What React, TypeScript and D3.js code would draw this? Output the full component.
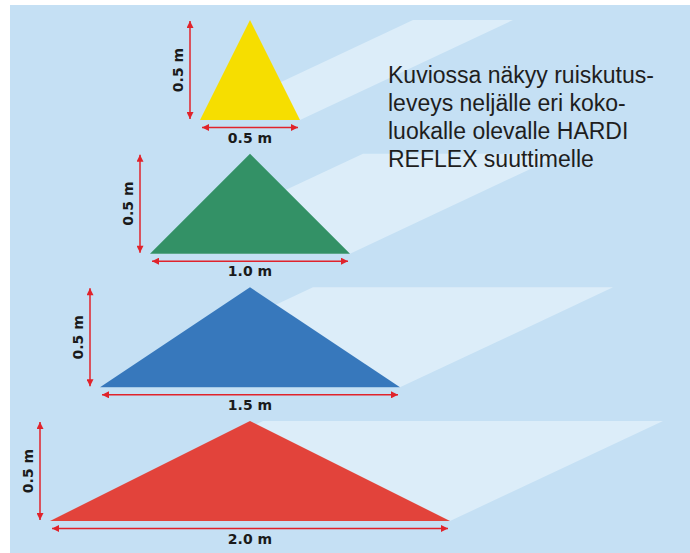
import React from "react";
import * as d3 from "d3";

// Spray widths (m) and heights (m) for the four nozzle size classes
const categories = ["yellow", "green", "blue", "red"];
const sprayWidths = [0.5, 1.0, 1.5, 2.0];
const sprayHeights = [0.5, 0.5, 0.5, 0.5];
const widthLabels = ["0.5 m", "1.0 m", "1.5 m", "2.0 m"];
const heightLabels = ["0.5 m", "0.5 m", "0.5 m", "0.5 m"];
const fillColors = ["#f6de00", "#339166", "#3778bc", "#e2433b"];
const descriptionLines = [
  "Kuviossa näkyy ruiskutus-",
  "leveys neljälle eri koko-",
  "luokalle olevalle HARDI",
  "REFLEX suuttimelle",
];

const W = 690;
const H = 553;
const BG = "#c5e0f4";
const LIGHT = "#dcedf9";
const ARROW = "#e0232b";

export default function App() {
  const x = d3.scaleLinear().domain([-1, 1]).range([50, 450]);
  const hScale = d3.scaleLinear().domain([0, 0.5]).range([0, 100]);
  const row = d3
    .scalePoint<number>()
    .domain(categories.map((_, i) => i))
    .range([120, 521]);
  const depth = { dx: 213, dy: -100 };
  const line = d3.line<[number, number]>();

  return (
    <svg
      width={W}
      height={H}
      style={{ position: "absolute", left: 0, top: 0, display: "block" }}
    >
      <defs>
        <marker
          id="ah"
          viewBox="0 0 10 10"
          refX="10"
          refY="5"
          markerUnits="userSpaceOnUse"
          markerWidth="9"
          markerHeight="7"
          orient="auto-start-reverse"
        >
          <path d="M0,0 L10,5 L0,10 Z" fill={ARROW} />
        </marker>
      </defs>
      <rect x={0} y={0} width={W} height={H} fill="#ffffff" />
      <rect x={10} y={5} width={W - 10} height={H - 5} fill={BG} />

      {/* perspective spray bands, drawn first so triangles sit on top */}
      {categories.map((c, i) => {
        const by = row(i)!;
        const xl = x(-sprayWidths[i] / 2);
        const xr = x(sprayWidths[i] / 2);
        const pts: [number, number][] = [
          [xl, by],
          [xr, by],
          [xr + depth.dx, by + depth.dy],
          [xl + depth.dx, by + depth.dy],
          [xl, by],
        ];
        return <path key={"band" + c} d={line(pts)!} fill={LIGHT} />;
      })}

      {categories.map((c, i) => {
        const by = row(i)!;
        const xl = x(-sprayWidths[i] / 2);
        const xr = x(sprayWidths[i] / 2);
        const top = by - hScale(sprayHeights[i]);
        const tri: [number, number][] = [
          [xl, by],
          [x(0), top],
          [xr, by],
          [xl, by],
        ];
        const ax = xl - 10;
        const hy = by + 7.5;
        return (
          <g key={c}>
            <path d={line(tri)!} fill={fillColors[i]} />
            {/* height arrow */}
            <line
              x1={ax}
              y1={top + 1}
              x2={ax}
              y2={by - 1}
              stroke={ARROW}
              strokeWidth={1.5}
              markerStart="url(#ah)"
              markerEnd="url(#ah)"
            />
            <text
              transform={`translate(${ax - 7},${(top + by) / 2}) rotate(-90)`}
              textAnchor="middle"
              fontFamily="DejaVu Sans"
              fontWeight="bold"
              fontSize={14}
              fill="#1a1a1a"
            >
              {heightLabels[i]}
            </text>
            {/* width arrow */}
            <line
              x1={xl + 2}
              y1={hy}
              x2={xr - 2}
              y2={hy}
              stroke={ARROW}
              strokeWidth={1.5}
              markerStart="url(#ah)"
              markerEnd="url(#ah)"
            />
            <text
              x={x(0)}
              y={by + 22.5}
              textAnchor="middle"
              fontFamily="DejaVu Sans"
              fontWeight="bold"
              fontSize={14}
              fill="#1a1a1a"
            >
              {widthLabels[i]}
            </text>
          </g>
        );
      })}

      <text
        x={388}
        y={83}
        fontFamily="Liberation Sans, Arial, sans-serif"
        fontSize={23}
        fill="#1e1e1e"
      >
        {descriptionLines.map((l, i) => (
          <tspan key={i} x={388} dy={i === 0 ? 0 : 28}>
            {l}
          </tspan>
        ))}
      </text>
    </svg>
  );
}
